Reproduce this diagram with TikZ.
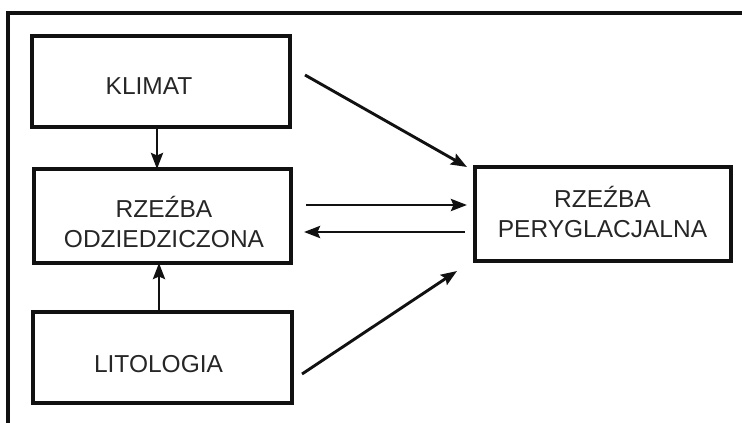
\documentclass[tikz,border=0pt]{standalone}
\usepackage{fontspec}
\setmainfont{Liberation Sans}
\usetikzlibrary{arrows.meta,calc}
\definecolor{ink}{HTML}{111111}
\definecolor{txt}{HTML}{262626}
\begin{document}
\begin{tikzpicture}[x=1pt,y=-1pt,
  box/.style={draw=ink,line width=3.4pt,rectangle,inner sep=0pt,outer sep=0pt},
  lbl/.style={text=txt,font=\fontsize{24.5}{30}\selectfont,align=center,inner sep=0pt,anchor=base},
  arr/.style={draw=ink,line width=2.9pt,-{Stealth[length=16pt,width=12pt,inset=2.5pt]}},
  frame/.style={draw=ink,line width=3.2pt}]
\useasboundingbox (0,0) rectangle (742,423);
\draw[frame] (742,13) -- (8,13) -- (8,423);
% boxes
\node[box,minimum width=258pt,minimum height=91pt] (klimat) at (161,81.5) {};
\node[box,minimum width=257pt,minimum height=94pt] (mid) at (162.5,216) {};
\node[box,minimum width=256pt,minimum height=94pt] (right) at (603,214) {};
\node[box,minimum width=259pt,minimum height=91pt] (lito) at (162.5,357.5) {};
% labels (base = baseline of the last line)
\node[lbl] (klimatT) at (149,94) {KLIMAT};
\node[lbl] (midT) at (164,247) {RZEŹBA\\ODZIEDZICZONA};
\node[lbl] (rightT) at (602.5,237) {RZEŹBA\\PERYGLACJALNA};
\node[lbl] (litoT) at (158.5,372) {LITOLOGIA};
% connectors
\draw[arr] ([xshift=-4pt]klimat.south) -- ([xshift=-4pt]klimat.south |- mid.north);
\draw[arr] ([xshift=-3.5pt]lito.north) -- ([xshift=-3.5pt]lito.north |- mid.south);
\draw[arr] ($(klimat.east)+(15,-6.5)$) -- ($(right.north west)+(-8,0)$);
\draw[arr] ($(lito.east)+(10,16.5)$) -- ($(right.south west)+(-18,10)$);
\draw[arr] ($(mid.east)+(15,-11)$) -- ($(right.west)+(-8,-9)$);
\draw[arr] ($(right.west)+(-10,18)$) -- ($(mid.east)+(13,16)$);
\end{tikzpicture}
\end{document}
